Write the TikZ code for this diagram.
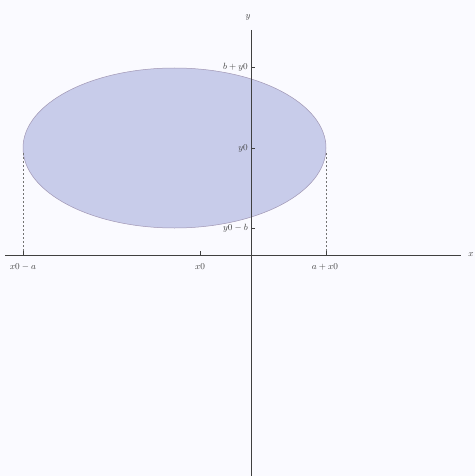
\documentclass[tikz,border=0pt]{standalone}
\begin{document}
\begin{tikzpicture}[x=1pt,y=-1pt,
  axis/.style={draw=black!75,line width=0.7pt},
  tick/.style={draw=black!75,line width=0.6pt},
  guide/.style={draw=black!55,line width=0.6pt,dash pattern=on 2pt off 2pt},
  lbl/.style={font=\fontsize{9}{10}\selectfont,text=black!75,inner sep=1pt}]
\useasboundingbox (0,0) rectangle (475,476);
\fill[white!98!blue] (0,0) rectangle (475,476);
% ellipse
\fill[fill={rgb,255:red,200;green,204;blue,234},draw={rgb,255:red,160;green,150;blue,180},line width=0.5pt]
  (174.5,148) ellipse [x radius=151.5, y radius=80];
% coordinates
\coordinate (xl) at (5,255);
\coordinate (xr) at (461,255);
\coordinate (yt) at (251,30);
\coordinate (yb) at (251,476);
\coordinate (ell) at (23,153);
\coordinate (elr) at (326,153);
\coordinate (axl) at (23,255);
\coordinate (axr) at (326,255);
% axes
\draw[axis] (xl) -- (xr);
\draw[axis] (yt) -- (yb);
% dashed guides
\draw[guide] (ell) -- (axl);
\draw[guide] (elr) -- (axr);
% ticks
\draw[tick] (23,251) -- (axl);
\draw[tick] (200,251) -- (200,255);
\draw[tick] (326,251) -- (axr);
\draw[tick] (251,67) -- (255,67);
\draw[tick] (251,148) -- (255,148);
\draw[tick] (251,228) -- (255,228);
% labels
\node[lbl] (lx) at (471,255) {$x$};
\node[lbl] (ly) at (248,17) {$y$};
\node[lbl] (lxa) at (23,267) {$x0-a$};
\node[lbl] (lx0) at (200,267) {$x0$};
\node[lbl] (lax) at (325,267) {$a+x0$};
\node[lbl,anchor=east] (lby) at (249,67) {$b+y0$};
\node[lbl,anchor=east] (ly0) at (249,148) {$y0$};
\node[lbl,anchor=east] (lyb) at (249,228) {$y0-b$};
\end{tikzpicture}
\end{document}
